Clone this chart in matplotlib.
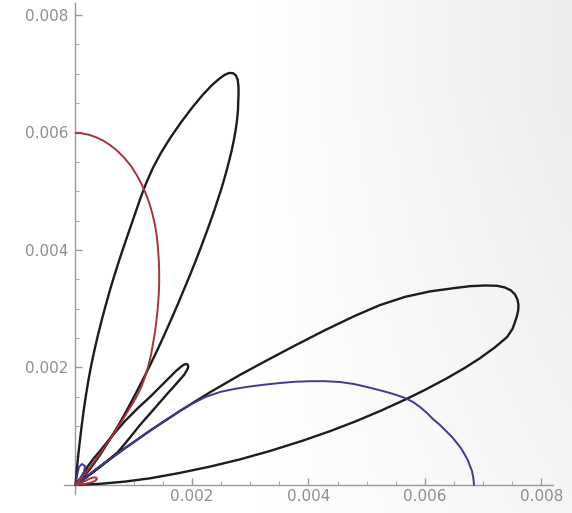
import matplotlib
matplotlib.use("Agg")
import matplotlib.pyplot as plt
import numpy as np

SCALE = 1e-3  # values below are in units of 0.001

# Black pattern: lobe near 70 deg, small lobe near 45 deg, big lobe near 25 deg
black_x = [0, 0.022, 0.048, 0.077, 0.108, 0.142, 0.180, 0.223, 0.271, 0.326, 0.386, 0.451,
           0.520, 0.592, 0.670, 0.752, 0.838, 0.927, 1.021, 1.116, 1.214, 1.329, 1.466,
           1.626, 1.804, 1.998, 2.182, 2.345, 2.464, 2.558, 2.635, 2.704, 2.755, 2.786,
           2.798, 2.800, 2.795, 2.790, 2.774, 2.750, 2.719, 2.683, 2.642, 2.597, 2.549, 2.498,
           2.443, 2.386, 2.326, 2.264, 2.201, 2.136, 2.069, 1.966, 1.859, 1.751, 1.639,
           1.524, 1.406, 1.282, 1.154, 1.021, 0.884, 0.740, 0.585, 0.421, 0.237, 0,
           0.112, 0.215, 0.318, 0.421, 0.524, 0.627, 0.738, 0.850, 0.961, 1.073, 1.176,
           1.279, 1.408, 1.536, 1.639, 1.725, 1.785, 1.828, 1.863, 1.897, 1.923, 1.936,
           1.931, 1.914, 1.888, 1.863, 1.811, 1.760, 1.674, 1.588, 1.476, 1.365, 1.236,
           1.107, 1.004, 0.901, 0.815, 0.730, 0.575, 0.421, 0.215, 0,
           0.421, 0.850, 1.279, 1.794, 2.309, 2.824, 3.288, 3.768, 4.283, 4.798, 5.227,
           5.657, 6.086, 6.515, 6.773, 7.030, 7.236, 7.373, 7.476, 7.545, 7.588, 7.605,
           7.600, 7.579, 7.545, 7.502, 7.408, 7.202, 6.944, 6.687, 6.378, 6.000, 5.657,
           5.227, 4.798, 4.369, 3.906, 3.339, 2.824, 2.309, 1.794, 1.279, 0.850, 0.421, 0]
black_y = [0, 0.255, 0.511, 0.766, 1.021, 1.277, 1.532, 1.787, 2.043, 2.298, 2.553, 2.809,
           3.064, 3.319, 3.574, 3.830, 4.085, 4.340, 4.613, 4.885, 5.140, 5.396, 5.651,
           5.906, 6.162, 6.417, 6.638, 6.809, 6.911, 6.979, 7.013, 7.009, 6.970, 6.894,
           6.774, 6.655, 6.553, 6.383, 6.213, 6.043, 5.872, 5.702, 5.532, 5.362, 5.191, 5.021,
           4.851, 4.681, 4.511, 4.340, 4.170, 4.000, 3.830, 3.574, 3.319, 3.064, 2.809,
           2.553, 2.298, 2.043, 1.787, 1.532, 1.277, 1.021, 0.766, 0.511, 0.255, 0,
           0.153, 0.323, 0.460, 0.579, 0.706, 0.834, 0.962, 1.089, 1.200, 1.311, 1.404,
           1.498, 1.626, 1.753, 1.855, 1.940, 1.991, 2.026, 2.048, 2.060, 2.051, 2.026,
           1.991, 1.957, 1.915, 1.872, 1.813, 1.753, 1.660, 1.566, 1.438, 1.311, 1.166,
           1.021, 0.894, 0.766, 0.664, 0.562, 0.434, 0.306, 0.153, 0,
           0.317, 0.626, 0.924, 1.261, 1.578, 1.874, 2.123, 2.374, 2.635, 2.880, 3.062,
           3.202, 3.295, 3.353, 3.384, 3.396, 3.391, 3.362, 3.311, 3.243, 3.157, 3.064,
           2.970, 2.877, 2.774, 2.655, 2.517, 2.344, 2.158, 1.995, 1.818, 1.619, 1.452,
           1.258, 1.079, 0.916, 0.756, 0.579, 0.436, 0.313, 0.206, 0.114, 0.058, 0.020, 0]

# Blue pattern: small lobe near the origin, then a wide lobe down to the x axis
blue_x = [0, 0.026, 0.060, 0.112, 0.163, 0.146, 0.077, 0,
          0.421, 0.850, 1.279, 1.536, 1.794, 2.017, 2.240, 2.481, 2.738, 2.996, 3.253,
          3.511, 3.768, 4.026, 4.283, 4.541, 4.781, 5.004, 5.210, 5.399, 5.536, 5.657,
          5.794, 5.914, 6.034, 6.137, 6.258, 6.361, 6.464, 6.549, 6.627, 6.687, 6.738,
          6.773, 6.807, 6.824, 6.836, 6.841]
blue_y = [0, 0.153, 0.306, 0.357, 0.323, 0.221, 0.102, 0,
          0.317, 0.626, 0.924, 1.096, 1.260, 1.392, 1.501, 1.583, 1.637, 1.677, 1.709,
          1.736, 1.757, 1.767, 1.767, 1.753, 1.719, 1.668, 1.617, 1.566, 1.523, 1.481,
          1.413, 1.328, 1.226, 1.123, 1.021, 0.919, 0.817, 0.715, 0.613, 0.511, 0.417,
          0.323, 0.238, 0.153, 0.077, 0]

# Red pattern: lobe from the y axis down to the origin, plus a tiny lobe
red_x = [0, 0.112, 0.232, 0.352, 0.472, 0.592, 0.712, 0.833, 0.953, 1.056, 1.142, 1.210,
         1.270, 1.322, 1.365, 1.396, 1.416, 1.430, 1.437, 1.437, 1.428, 1.413, 1.391,
         1.365, 1.330, 1.293, 1.245, 1.193, 1.133, 1.064, 0.987, 0.901, 0.807, 0.712,
         0.618, 0.524, 0.429, 0.335, 0.240, 0.146, 0.069, 0,
         0.094, 0.163, 0.232, 0.300, 0.352, 0.369, 0.335, 0.266, 0.163, 0]
red_y = [5.991, 5.985, 5.961, 5.920, 5.864, 5.787, 5.694, 5.574, 5.430, 5.268, 5.106, 4.953,
         4.791, 4.613, 4.426, 4.238, 4.034, 3.830, 3.626, 3.421, 3.217, 3.013, 2.809,
         2.604, 2.400, 2.196, 2.009, 1.838, 1.677, 1.532, 1.396, 1.260, 1.106, 0.962,
         0.817, 0.681, 0.545, 0.417, 0.289, 0.170, 0.085, 0,
         0.034, 0.068, 0.102, 0.128, 0.128, 0.102, 0.068, 0.043, 0.017, 0]

tick_values = [0.002, 0.004, 0.006, 0.008]
tick_labels = ["0.002", "0.004", "0.006", "0.008"]
minor_values = [0.0005, 0.001, 0.0015, 0.0025, 0.003, 0.0035, 0.0045, 0.005, 0.0055,
                0.0065, 0.007, 0.0075]

fig = plt.figure(figsize=(5.72, 5.13), dpi=100)

# subtle background shading
bg = fig.add_axes([0, 0, 1, 1], zorder=0)
bg.axis("off")
gx, gy = np.meshgrid(np.linspace(0, 1, 200), np.linspace(0, 1, 200))
shade = 1 - 0.075 * np.clip((gx - 0.45) / 0.55, 0, 1) * np.clip(1.1 - 0.6 * gy, 0, 1)
bg.imshow(np.dstack([shade] * 3), extent=[0, 1, 0, 1], aspect="auto", origin="upper")
bg.set_xlim(0, 1)
bg.set_ylim(0, 1)

ax = fig.add_axes([0.1116, 0.0374, 0.8554, 0.9563], zorder=1)
ax.patch.set_alpha(0)

def s(v):
    return [a * SCALE for a in v]

ax.plot(s(black_x), s(black_y), color="#1c1c1c", lw=1.7, solid_joinstyle="round",
        solid_capstyle="round", zorder=3)
ax.plot(s(blue_x), s(blue_y), color="#3d3b8e", lw=1.4, solid_joinstyle="round",
        solid_capstyle="round", zorder=4)
ax.plot(s(red_x), s(red_y), color="#a8323f", lw=1.4, solid_joinstyle="round",
        solid_capstyle="round", zorder=5)

ax.set_xlim(-0.0002, 0.0082)
ax.set_ylim(-0.00015, 0.0082)

for side in ["top", "right"]:
    ax.spines[side].set_visible(False)
for side in ["left", "bottom"]:
    ax.spines[side].set_position(("data", 0))
    ax.spines[side].set_color("#9a9a9a")
    ax.spines[side].set_linewidth(1.0)

ax.set_xticks(tick_values)
ax.set_xticklabels(tick_labels)
ax.set_yticks(tick_values)
ax.set_yticklabels(tick_labels)
ax.set_xticks(minor_values, minor=True)
ax.set_yticks(minor_values, minor=True)

ax.tick_params(which="major", direction="in", length=5, width=1, color="#9a9a9a",
               labelcolor="#8f8f8f", labelsize=11)
ax.tick_params(which="minor", direction="in", length=3, width=0.8, color="#aaaaaa")
ax.tick_params(axis="y", which="major", pad=5)
ax.tick_params(axis="x", which="major", pad=3)

fig.savefig("out.png", dpi=100)
